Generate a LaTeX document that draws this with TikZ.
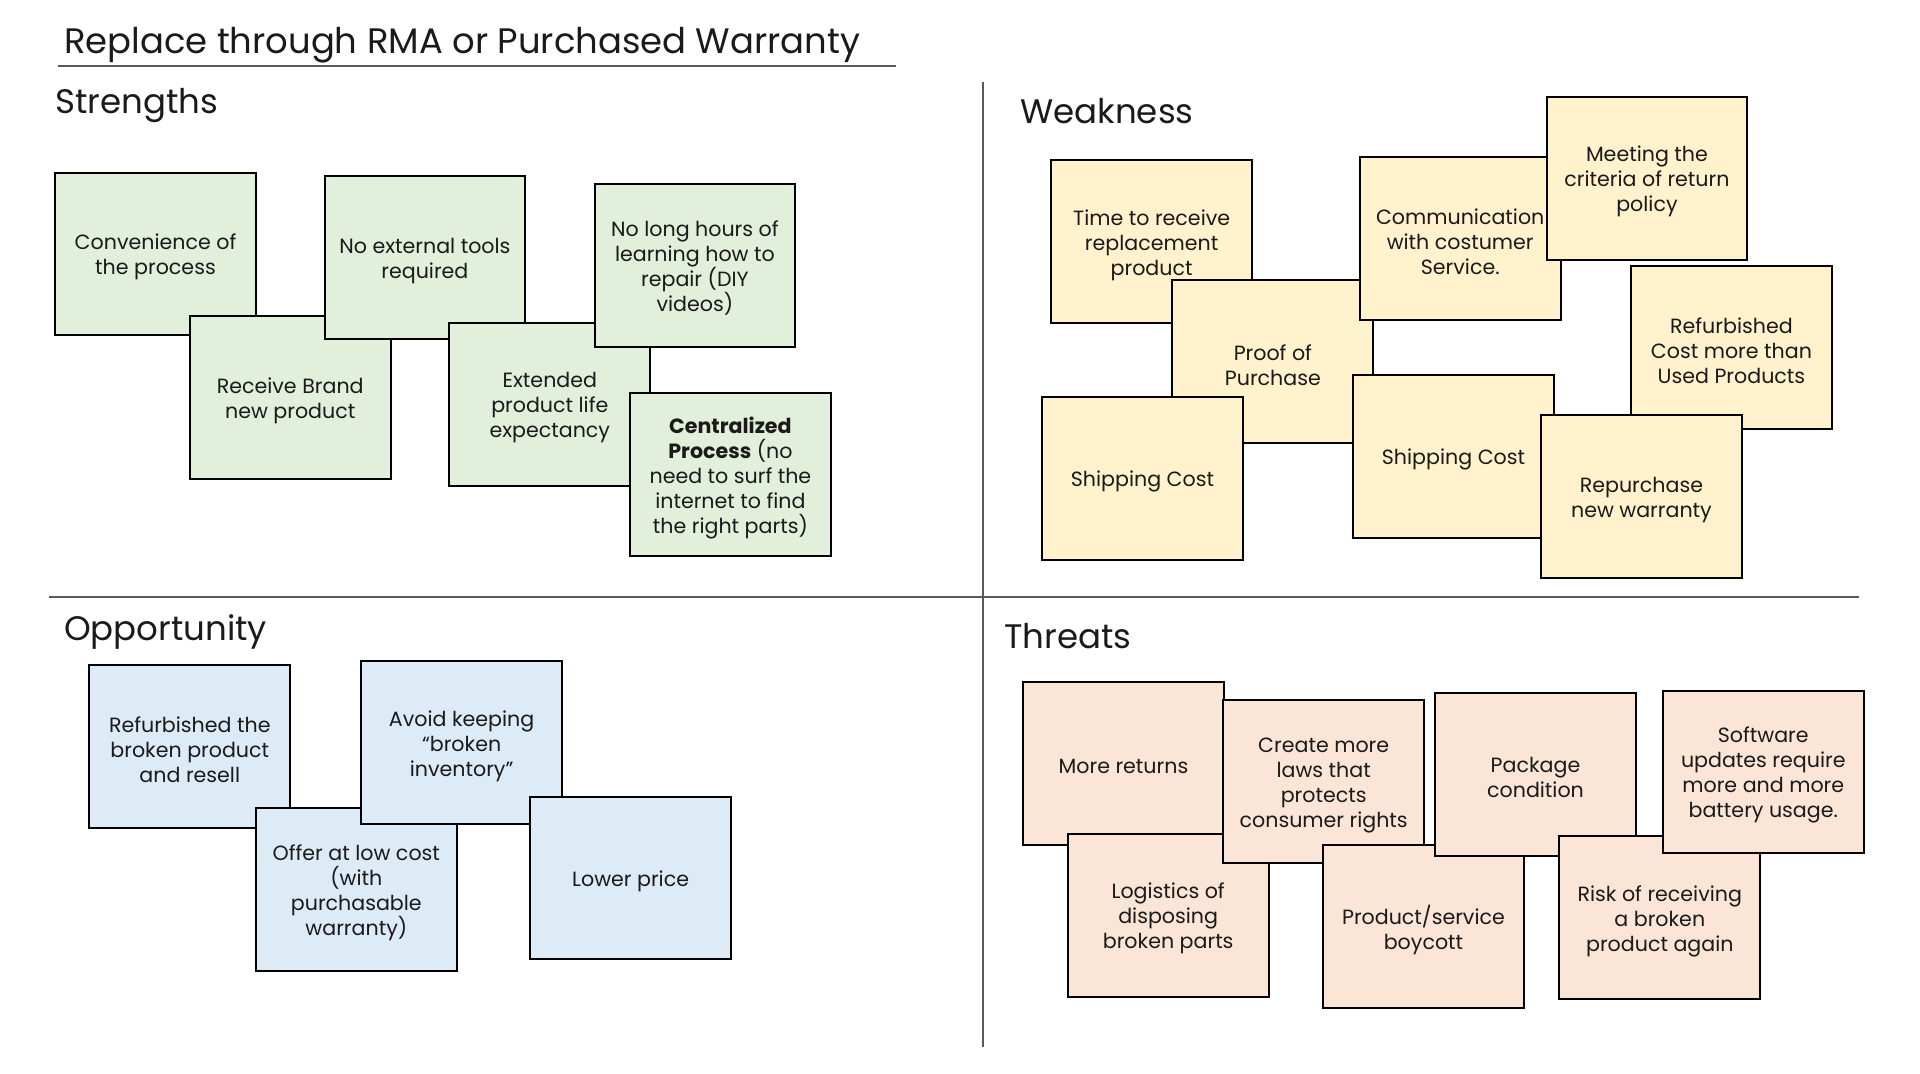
\documentclass[tikz,border=0pt]{standalone}
\usepackage{fontspec}
\setmainfont{Poppins}
\definecolor{sgreen}{HTML}{E2EFDA}
\definecolor{syellow}{HTML}{FFF2CC}
\definecolor{sblue}{HTML}{DDEBF7}
\definecolor{speach}{HTML}{FBE5D6}
\definecolor{divgray}{HTML}{595959}
\definecolor{txt}{HTML}{1A1A1A}
\tikzset{
  notetext/.style={inner sep=0pt, align=center, text=txt, font=\fontsize{10.3}{12.5}\selectfont, yshift=-1.6pt},
  note/.style={draw=black, line width=1pt, rectangle, minimum width=100.4pt, minimum height=81.4pt,
    inner sep=0pt, label={[notetext]center:{#1}}},
  gnote/.style={note={#1}, fill=sgreen},
  ynote/.style={note={#1}, fill=syellow},
  bnote/.style={note={#1}, fill=sblue},
  pnote/.style={note={#1}, fill=speach},
  heading/.style={anchor=base west, inner sep=0pt, text=txt, font=\fontsize{17}{20}\selectfont},
  divider/.style={draw=divgray, line width=0.8pt}
}
\begin{document}
\begin{tikzpicture}[x=0.61225pt, y=-0.61225pt]
\useasboundingbox (0,0) rectangle (1568,877.1);
\fill[white] (0,0) rectangle (1568,877.1);
% title
\node[heading, font=\fontsize{17.7}{22}\selectfont] (title) at (52,44) {Replace through RMA or Purchased Warranty};
\coordinate (tl) at (47,54);
\coordinate (tr) at (732,54);
\draw[divider] (tl) -- (tr);
% dividers
\coordinate (hl) at (40,487.5);
\coordinate (hr) at (1518,487.5);
\coordinate (vt) at (803,67);
\coordinate (vb) at (803,855);
\draw[divider] (hl) -- (hr);
\draw[divider] (vt) -- (vb);
% headings
\node[heading] (hs) at (45,93) {Strengths};
\node[heading] (hw) at (833,101) {Weakness};
\node[heading] (ho) at (52,523) {Opportunity};
\node[heading] (ht) at (820,530) {Threats};
% Strengths
\node[gnote={Convenience of\\the process}] (conv) at (127,207.5) {};
\node[gnote={Receive Brand\\new product}] (recv) at (237,324.5) {};
\node[gnote={No external tools\\required}] (noext) at (347,210.5) {};
\node[gnote={Extended\\product life\\expectancy}] (ext) at (449,330.5) {};
\node[gnote={No long hours of\\learning how to\\repair (DIY\\videos)}] (nolong) at (567.5,216.5) {};
\node[gnote={\textbf{Centralized}\\\textbf{Process} (no\\need to surf the\\internet to find\\the right parts)}] (central) at (596.5,387.5) {};
% Weakness
\node[ynote={Time to receive\\replacement\\product}] (time) at (940.5,197.5) {};
\node[ynote={Proof of\\Purchase}] (proof) at (1039.5,295.5) {};
\node[ynote={Communication\\with costumer\\Service.}] (comm) at (1192.5,194.5) {};
\node[ynote={Meeting the\\criteria of return\\policy}] (meet) at (1345,145.5) {};
\node[ynote={Shipping Cost}] (ship1) at (933,390.5) {};
\node[ynote={Shipping Cost}] (ship2) at (1187,372.5) {};
\node[ynote={Refurbished\\Cost more than\\Used Products}] (refurb) at (1414,283.5) {};
\node[ynote={Repurchase\\new warranty}] (repur) at (1340.5,405.5) {};
% Opportunity
\node[bnote={Refurbished the\\broken product\\and resell}] (refbroken) at (155,609.5) {};
\node[bnote={Offer at low cost\\(with\\purchasable\\warranty)}] (offer) at (291,726.5) {};
\node[bnote={Avoid keeping\\``broken\\inventory''}] (avoid) at (377,606.5) {};
\node[bnote={Lower price}] (lower) at (515,717) {};
% Threats
\node[pnote={More returns}] (more) at (917.5,623.5) {};
\node[pnote={Logistics of\\disposing\\broken parts}] (logi) at (954,747.5) {};
\node[pnote={Create more\\laws that\\protects\\consumer rights}] (create) at (1081,638.5) {};
\node[pnote={Product/service\\boycott}] (prodsvc) at (1162.5,756.5) {};
\node[pnote={Package\\condition}] (pkg) at (1254,632.5) {};
\node[pnote={Risk of receiving\\a broken\\product again}] (risk) at (1355.5,749.5) {};
\node[pnote={Software\\updates require\\more and more\\battery usage.}] (soft) at (1440,630.5) {};
\end{tikzpicture}
\end{document}
